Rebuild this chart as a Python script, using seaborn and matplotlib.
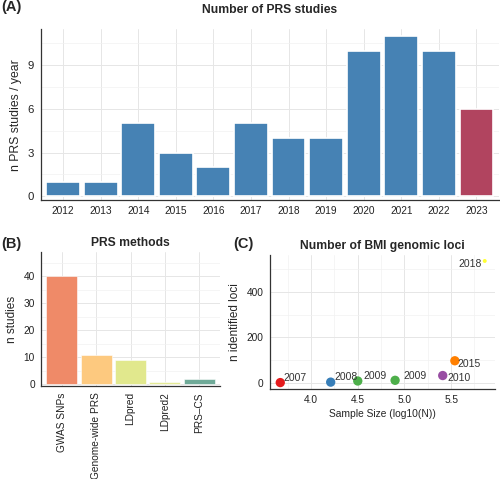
import matplotlib
matplotlib.use("Agg")
import matplotlib.pyplot as plt
import seaborn as sns
import pandas as pd
from matplotlib.ticker import MultipleLocator

# (A) numero di studi PRS per anno
years = ["2012", "2013", "2014", "2015", "2016", "2017",
         "2018", "2019", "2020", "2021", "2022", "2023"]
n_studies = [1, 1, 5, 3, 2, 5, 4, 4, 10, 11, 10, 6]
year_colors = ["#4682B4"] * 11 + ["#B1445F"]

# (B) metodi PRS
methods = ["GWAS SNPs", "Genome-wide PRS", "LDpred", "LDpred2", "PRS–CS"]
method_counts = [40, 11, 9, 1, 2]
method_colors = ["#EF8A68", "#FDC97F", "#E1E88D", "#E4EA96", "#6FAA98"]

# (C) loci genomici BMI
gwas_year = ["2007", "2008", "2009", "2009", "2010", "2015", "2018"]
log_n = [3.67, 4.21, 4.50, 4.90, 5.41, 5.54, 5.86]
n_loci = [1, 3, 8, 11, 32, 97, 536]
loci_colors = ["#E41A1C", "#377EB8", "#4DAF4A", "#4DAF4A",
               "#984EA3", "#FF7F00", "#FFFF33"]
point_sizes = [45, 45, 45, 45, 45, 45, 8]
label_offsets = [(10.3, 3.4), (10.8, 3.6), (12.5, 3.6), (14.4, 3.1),
                 (12, -1.9), (10.3, -2.2), (-10.7, -2.2)]

sns.set_theme(style="whitegrid")
plt.rcParams['font.family'] = ['Liberation Sans', 'DejaVu Sans']

fig = plt.figure(figsize=(5, 4.79), dpi=100)


def stile(ax, xminor=False):
    for s in ["top", "right"]:
        ax.spines[s].set_visible(False)
    for s in ["left", "bottom"]:
        ax.spines[s].set_visible(True)
        ax.spines[s].set_color("#333333")
        ax.spines[s].set_linewidth(0.9)
    ax.tick_params(axis="both", which="major", length=2.5, width=0.8,
                   color="#333333", labelcolor="#222222", pad=2,
                   labelsize=7.3)
    ax.tick_params(axis="both", which="minor", length=0)
    ax.grid(True, which="major", color="#E6E6E6", linewidth=0.7)
    ax.grid(True, which="minor", color="#F1F1F1", linewidth=0.5)
    if not xminor:
        ax.xaxis.grid(True, which="major", color="#E6E6E6", linewidth=0.7)
    ax.set_axisbelow(True)
    ax.set_facecolor("white")


# Pannello A
axA = fig.add_axes([0.081, 0.582, 0.917, 0.357])
sns.barplot(x=years, y=n_studies, hue=years, palette=year_colors,
            legend=False, width=0.9, edgecolor="white", linewidth=1.2,
            saturation=1, ax=axA)
axA.set_xlim(-0.6, 11.6)
axA.set_ylim(-0.27, 11.46)
axA.yaxis.set_major_locator(MultipleLocator(3))
axA.yaxis.set_minor_locator(MultipleLocator(1.5))
stile(axA)
axA.tick_params(axis="y", labelsize=8.2)
axA.set_xlabel("")
axA.set_ylabel("n PRS studies / year", fontsize=8.8, labelpad=4)
axA.set_title("Number of PRS studies", fontsize=8.7, fontweight="bold", pad=12)
fig.text(0.002, 0.986, "(A)", fontsize=10.5, fontweight="bold", va="center")

# Pannello B
axB = fig.add_axes([0.082, 0.194, 0.358, 0.280])
sns.barplot(x=methods, y=method_counts, hue=methods, palette=method_colors,
            legend=False, width=0.9, edgecolor="white", linewidth=0.4,
            saturation=1, ax=axB)
axB.set_xlim(-0.6, 4.6)
axB.set_ylim(-0.6, 49)
axB.yaxis.set_major_locator(MultipleLocator(10))
axB.yaxis.set_minor_locator(MultipleLocator(5))
stile(axB)
axB.tick_params(axis="x", rotation=90)
axB.set_xlabel("")
axB.set_ylabel("n studies", fontsize=8.5, labelpad=4)
axB.set_title("PRS methods", fontsize=8.7, fontweight="bold", pad=4)
fig.text(0.002, 0.49, "(B)", fontsize=10.5, fontweight="bold", va="center")

# Pannello C
axC = fig.add_axes([0.540, 0.188, 0.450, 0.280])
df_loci = pd.DataFrame({"log_n": log_n, "n_loci": n_loci,
                        "study": range(len(log_n))})
sns.scatterplot(data=df_loci, x="log_n", y="n_loci", hue="study",
                palette=loci_colors, size="study",
                sizes=dict(enumerate(point_sizes)), linewidth=0,
                legend=False, ax=axC)
for i, lab in enumerate(gwas_year):
    axC.annotate(lab, (log_n[i], n_loci[i]), xytext=label_offsets[i],
                 textcoords="offset points", ha="center", va="center",
                 fontsize=7.5, color="#333333")
axC.set_xlim(3.56, 5.97)
axC.set_ylim(-27, 563)
axC.xaxis.set_major_locator(MultipleLocator(0.5))
axC.xaxis.set_minor_locator(MultipleLocator(0.25))
axC.yaxis.set_major_locator(MultipleLocator(200))
axC.yaxis.set_minor_locator(MultipleLocator(100))
stile(axC, xminor=True)
axC.set_xlabel("Sample Size (log10(N))", fontsize=7.4, labelpad=3)
axC.set_ylabel("n identified loci", fontsize=8.5, labelpad=4)
axC.set_title("Number of BMI genomic loci", fontsize=8.7, fontweight="bold",
              pad=4)
fig.text(0.466, 0.49, "(C)", fontsize=10.5, fontweight="bold", va="center")

fig.savefig("out.png", dpi=100, facecolor="white")
